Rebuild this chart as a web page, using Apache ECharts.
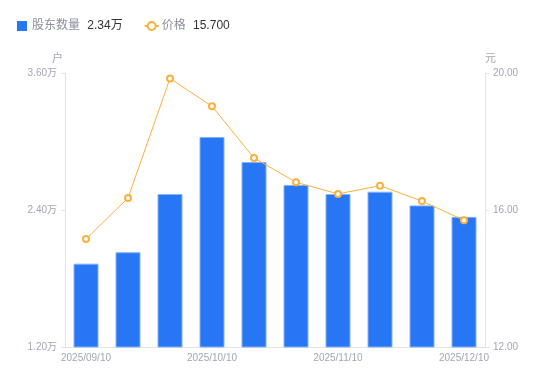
<!DOCTYPE html>
<html>
<head>
<meta charset="utf-8">
<style>
html, body { margin: 0; padding: 0; background: #fff; }
#chart { width: 550px; height: 381px; }
</style>
<script src="https://cdn.jsdelivr.net/npm/echarts@6/dist/echarts.min.js"></script>
</head>
<body>
<div id="chart"></div>
<script>
// 股东户数 / 价格
var dates = ['2025/09/10', '2025/09/20', '2025/09/30', '2025/10/10', '2025/10/20',
	'2025/10/31', '2025/11/10', '2025/11/20', '2025/11/30', '2025/12/10'];
var holders = [1.93, 2.03, 2.54, 3.04, 2.82, 2.62, 2.54, 2.56, 2.44, 2.34]; // 万户
var prices = [15.15, 16.35, 19.84, 19.03, 17.52, 16.81, 16.47, 16.71, 16.26, 15.70];
var leftTicks = [1.2, 3.6, 1.2];   // min, max, interval
var rightTicks = [12, 20, 4];

var font = 'Liberation Sans, Noto Sans CJK SC, sans-serif';
var chart = echarts.init(document.getElementById('chart'));

chart.setOption({
	animation : false,
	textStyle : { fontFamily : font },
	legend : {
		left : 12,
		top : 15,
		itemWidth : 14,
		itemHeight : 10,
		itemGap : 21,
		textStyle : {
			fontFamily : font,
			rich : {
				n : { color : '#8d909c', fontSize : 12, fontFamily : font, padding : [0, 0, 0, -2] },
				v : { color : '#333', fontSize : 12, fontFamily : font, padding : [0, 0, 0, 4] }
			}
		},
		formatter : function(name) {
			if (name == '股东数量') {
				return '{n|' + name + '} {v|' + holders[holders.length - 1].toFixed(2) + '万}';
			}
			return '{n|' + name + '} {v|' + prices[prices.length - 1].toFixed(3) + '}';
		},
		data : [ {
			name : '股东数量',
			icon : 'path://M0,0h10v10h-10z',
			itemStyle : { borderWidth : 0 }
		}, {
			name : '价格'
		} ]
	},
	grid : {
		left : 65,
		right : 65,
		top : 73,
		bottom : 34
	},
	xAxis : [ {
		type : 'category',
		data : dates,
		axisTick : { show : false },
		axisLine : { lineStyle : { color : '#e3e3e6' } },
		axisLabel : {
			interval : 2,
			color : '#a3a6b4',
			fontSize : 10,
			margin : 6,
			fontFamily : font
		}
	} ],
	yAxis : [ {
		type : 'value',
		name : '户',
		nameGap : 9,
		nameTextStyle : { color : '#a3a6b4', fontSize : 11, align : 'right', padding : [0, 2, 0, 0] },
		min : leftTicks[0],
		max : leftTicks[1],
		interval : leftTicks[2],
		splitLine : { show : false },
		axisLine : { show : true, lineStyle : { color : '#e3e3e6' } },
		axisTick : { show : true, length : 4, lineStyle : { color : '#e3e3e6' } },
		axisLabel : {
			color : '#a3a6b4',
			fontSize : 10,
			margin : 8,
			fontFamily : font,
			formatter : function(v) { return v.toFixed(2) + '万'; }
		}
	}, {
		type : 'value',
		name : '元',
		nameGap : 9,
		nameTextStyle : { color : '#a3a6b4', fontSize : 11, align : 'left' },
		min : rightTicks[0],
		max : rightTicks[1],
		interval : rightTicks[2],
		splitLine : { show : false },
		axisLine : { show : true, lineStyle : { color : '#e3e3e6' } },
		axisTick : { show : true, length : 4, lineStyle : { color : '#e3e3e6' } },
		axisLabel : {
			color : '#a3a6b4',
			fontSize : 10,
			margin : 8,
			fontFamily : font,
			formatter : function(v) { return v.toFixed(2); }
		}
	} ],
	series : [ {
		name : '股东数量',
		type : 'bar',
		yAxisIndex : 0,
		barWidth : 25,
		itemStyle : { color : '#2777f4', borderColor : '#86b0f7', borderWidth : 1 },
		data : holders
	}, {
		name : '价格',
		type : 'line',
		yAxisIndex : 1,
		symbol : 'emptyCircle',
		symbolSize : 6,
		lineStyle : { color : '#f9b13d', width : 1 },
		itemStyle : { color : '#f9b13d', borderWidth : 2 },
		data : prices
	} ]
});
</script>
</body>
</html>
